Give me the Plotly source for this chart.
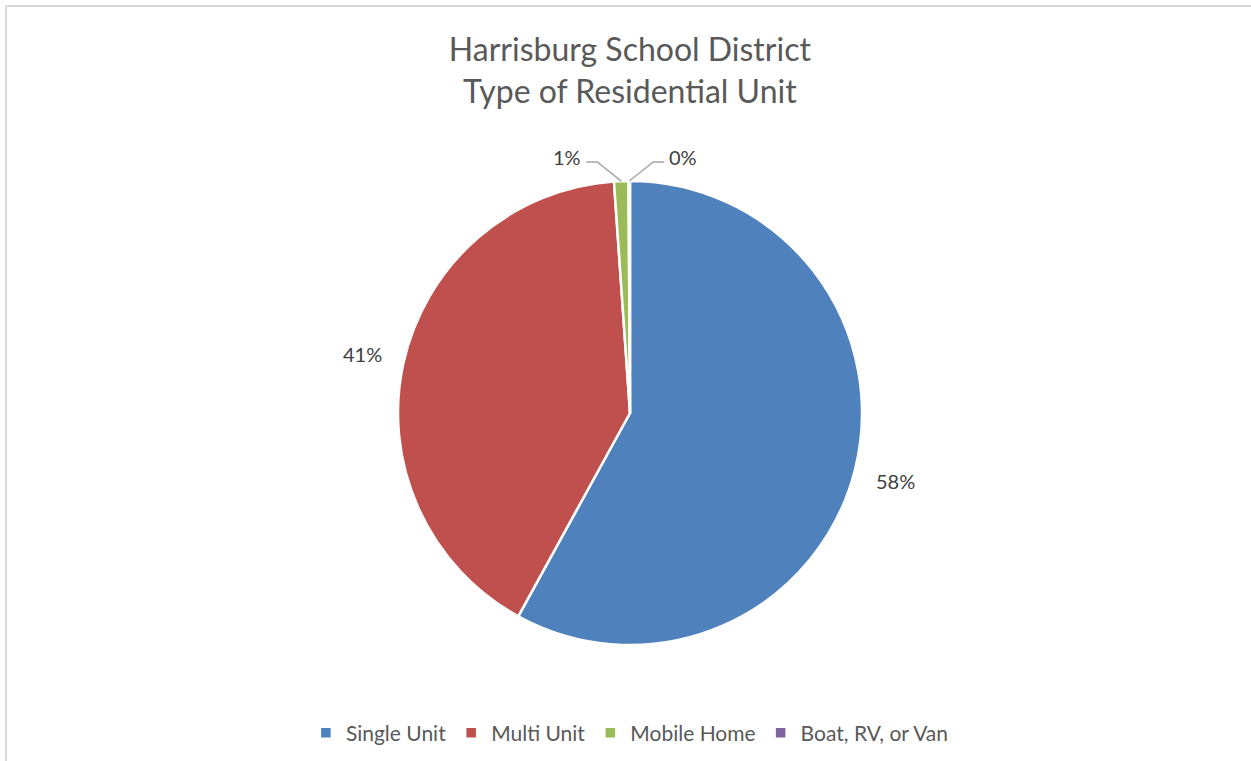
import math
import plotly.graph_objects as go

# ---- data ----
categories = ["Single Unit", "Multi Unit", "Mobile Home", "Boat, RV, or Van"]
shares = [58.0, 40.9, 1.0, 0.1]          # percent of residential units
colors = ["#4F81BD", "#C0504D", "#9BBB59", "#8064A2"]
title_lines = ["Harrisburg School District", "Type of Residential Unit"]

# ---- layout constants (pixels) ----
W, H = 1251, 761
CX, CY, R = 630.0, 413.0, 232.0
LABEL_R = 274.0
FONT = "Lato, Carlito, 'Open Sans', sans-serif"
TXT = "#404040"

def px(x):
    return x / W

def py(y):
    return 1 - y / H

fig = go.Figure()
fig.add_trace(go.Pie(
    labels=categories,
    values=shares,
    sort=False,
    direction="clockwise",
    rotation=0,
    textinfo="none",
    hoverinfo="label+percent",
    marker=dict(colors=colors, line=dict(color="white", width=2.5)),
    domain=dict(x=[px(CX - R), px(CX + R)], y=[py(CY + R), py(CY - R)]),
))

# ---- data labels computed from the values ----
total = sum(shares)
annotations = []
shapes = []
cum = 0.0
for i, v in enumerate(shares):
    frac = v / total
    mid = (cum + frac / 2) * 2 * math.pi
    cum += frac
    label = f"{round(frac * 100):.0f}%"
    if frac >= 0.05:
        lx = CX + LABEL_R * math.sin(mid)
        ly = CY - LABEL_R * math.cos(mid)
        annotations.append(dict(x=px(lx), y=py(ly), xref="paper", yref="paper",
                                text=label, showarrow=False,
                                xanchor="center", yanchor="middle",
                                font=dict(family=FONT, size=20, color=TXT)))
    else:
        ax = CX + R * math.sin(mid)
        ay = CY - R * math.cos(mid)
        side = -1 if i == 2 else 1
        ex, ey = ax + side * 24, 162.0
        tx = ex + side * 11
        shapes.append(dict(type="path", xref="paper", yref="paper",
                           path=f"M {px(ax)},{py(ay)} L {px(ex)},{py(ey)} L {px(tx)},{py(ey)}",
                           line=dict(color="#a6a6a6", width=1.5)))
        annotations.append(dict(x=px(tx + side * 3), y=py(157), xref="paper", yref="paper",
                                text=label, showarrow=False,
                                xanchor="right" if side < 0 else "left", yanchor="middle",
                                font=dict(family=FONT, size=20, color=TXT)))

# chart-area border (top and left edges visible)
shapes.append(dict(type="line", xref="paper", yref="paper",
                   x0=px(6), x1=1, y0=py(6), y1=py(6),
                   line=dict(color="#d9d9d9", width=2)))
shapes.append(dict(type="line", xref="paper", yref="paper",
                   x0=px(6), x1=px(6), y0=py(6), y1=0,
                   line=dict(color="#d9d9d9", width=2)))

fig.update_layout(
    width=W, height=H,
    margin=dict(l=0, r=0, t=0, b=0),
    paper_bgcolor="white",
    plot_bgcolor="white",
    title=dict(text="<br>".join(title_lines), x=0.5035, xanchor="center",
               y=py(61), yanchor="middle",
               font=dict(family=FONT, size=32, color="#595959")),
    showlegend=True,
    legend=dict(orientation="h", x=0.5035, xanchor="center",
                y=py(733), yanchor="middle",
                font=dict(family=FONT, size=21, color="#595959"),
                itemwidth=30, traceorder="normal"),
    annotations=annotations,
    shapes=shapes,
)

fig.write_html("out.html")
